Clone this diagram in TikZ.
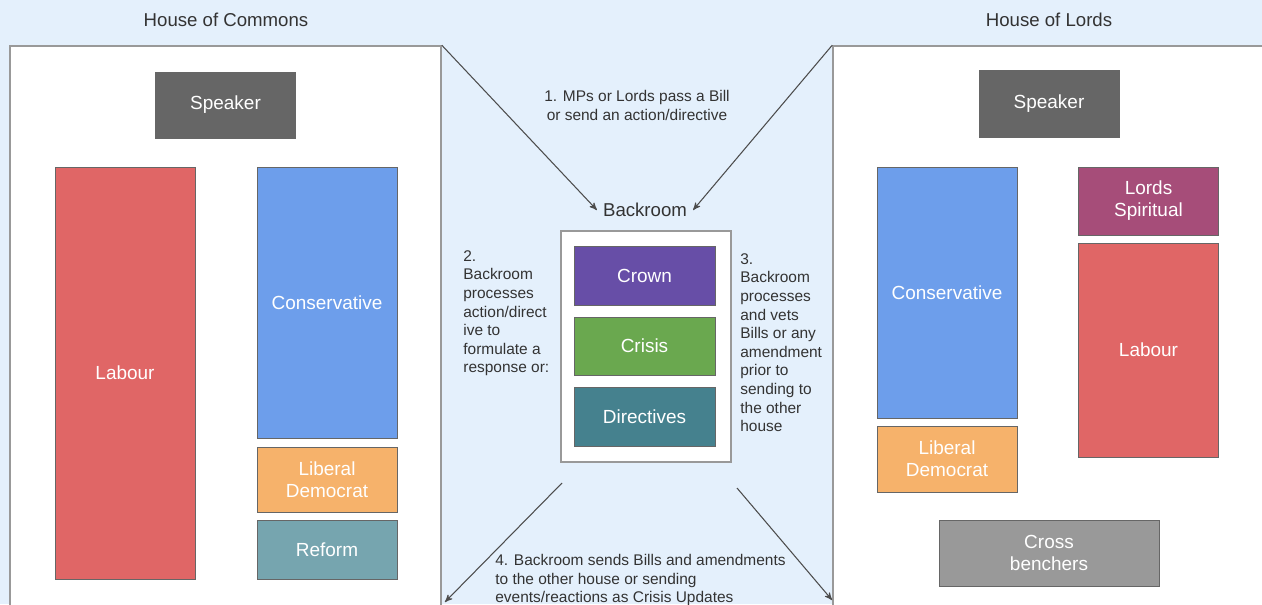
\documentclass[tikz,border=0pt]{standalone}
\usepackage{fontspec}
\setmainfont{Liberation Sans}
\usetikzlibrary{arrows}
\definecolor{sky}{RGB}{228,240,252}
\definecolor{speaker}{HTML}{666666}
\definecolor{labour}{HTML}{E06666}
\definecolor{tory}{HTML}{6D9EEB}
\definecolor{libdem}{HTML}{F6B26B}
\definecolor{reform}{HTML}{76A5AF}
\definecolor{spiritual}{HTML}{A64D79}
\definecolor{crossbench}{HTML}{999999}
\definecolor{crown}{HTML}{674EA7}
\definecolor{crisis}{HTML}{6AA84F}
\definecolor{directive}{HTML}{45818E}

\begin{document}
\begin{tikzpicture}[>=stealth',
        house/.style={draw=black!40,line width=0.9pt,fill=white,minimum height=11.32cm},
        seat/.style={draw=black!60,line width=0.5pt,text=white,minimum width=2.8cm,align=center,font=\fontsize{10.8}{12.6}\selectfont},
        heading/.style={text=black!80,font=\fontsize{10.6}{12}\selectfont},
        note/.style={text=black!80,inner sep=0pt,font=\fontsize{8.8}{10.6}\selectfont},
        link/.style={->,black!70,line width=0.6pt}]
                \useasboundingbox[fill=sky](0, 0) rectangle (25.24, 12.08);
                % the two houses
                \node[heading](commonsTitle)at(4.52, 11.68){House of Commons};
                \node[heading](lordsTitle)at(20.98, 11.68){House of Lords};
                \node[house,minimum width=8.62cm](commons)at(4.51, 5.5){};
                \node[house,minimum width=8.74cm](lords)at(21.03, 5.5){};
                \node[seat,fill=speaker,minimum height=1.32cm](cSpeaker)at(4.51, 9.98){Speaker};
                \node[seat,fill=labour,minimum height=8.24cm](cLabour)at(2.5, 4.62){Labour};
                \node[seat,fill=tory,minimum height=5.42cm](cTory)at(6.54, 6.03){Conservative};
                \node[seat,fill=libdem,minimum height=1.3cm](cLibdem)at(6.54, 2.49){Liberal\\Democrat};
                \node[seat,fill=reform,minimum height=1.18cm](cReform)at(6.54, 1.09){Reform};
                \node[seat,fill=speaker,minimum height=1.34cm](lSpeaker)at(20.98, 10.01){Speaker};
                \node[seat,fill=tory,minimum height=5.02cm](lTory)at(18.94, 6.23){Conservative};
                \node[seat,fill=libdem,minimum height=1.32cm](lLibdem)at(18.94, 2.9){Liberal\\Democrat};
                \node[seat,fill=spiritual,minimum height=1.36cm](lSpiritual)at(22.97, 8.06){Lords\\Spiritual};
                \node[seat,fill=labour,minimum height=4.28cm](lLabour)at(22.97, 5.08){Labour};
                \node[seat,fill=crossbench,minimum width=4.4cm,minimum height=1.32cm](lCross)at(20.98, 1.02){Cross\\benchers};
                % backroom in the middle
                \node[heading](bkTitle)at(12.9, 7.88){Backroom};
                \node[house,minimum width=3.4cm,minimum height=4.62cm](backroom)at(12.92, 5.15){};
                \node[seat,fill=crown,minimum width=2.82cm,minimum height=1.18cm](crown)at(12.89, 6.57){Crown};
                \node[seat,fill=crisis,minimum width=2.82cm,minimum height=1.16cm](crisis)at(12.89, 5.16){Crisis};
                \node[seat,fill=directive,minimum width=2.82cm,minimum height=1.18cm](directives)at(12.89, 3.75){Directives};
                \node[note,align=center](step1)at(12.74, 9.97){1. MPs or Lords pass a Bill\\or send an action/directive};
                \node[note,align=left,anchor=north west](step2)at(9.26, 7.08){2.\\Backroom\\processes\\action/direct\\ive to\\formulate a\\response or:};
                \node[note,align=left,anchor=north west](step3)at(14.8, 7.02){3.\\Backroom\\processes\\and vets\\Bills or any\\amendment\\prior to\\sending to\\the other\\house};
                \node[note,align=left,anchor=north west](step4)at(9.9, 1.0){4. Backroom sends Bills and amendments\\to the other house or sending\\events/reactions as Crisis Updates};
                \coordinate(outCommons)at(11.24, 2.42);
                \coordinate(inCommons)at(8.9, 0.04);
                \coordinate(outLords)at(14.74, 2.32);
                \coordinate(inLords)at(16.64, 0.08);
                \path[link](commons.north east) edge (bkTitle.west)
                (lords.north west) edge (bkTitle.east)
                (outCommons) edge (inCommons)
                (outLords) edge (inLords);
            \end{tikzpicture}
\end{document}
